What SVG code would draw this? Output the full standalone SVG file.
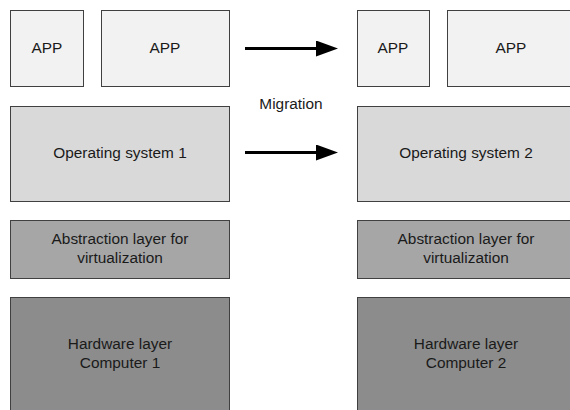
<svg xmlns="http://www.w3.org/2000/svg" width="570" height="410" viewBox="0 0 570 410">
  <style>
    .box { stroke: #404040; stroke-width: 1; }
    .app { fill: #f2f2f2; }
    .os { fill: #d9d9d9; }
    .abs { fill: #a6a6a6; }
    .hw { fill: #8c8c8c; }
    text { font-family: "Liberation Sans", Arial, sans-serif; font-size: 15.4px; fill: #1a1a1a; text-anchor: middle; }
    .conn { stroke: #000; stroke-width: 3; fill: none; }
  </style>
  <defs>
    <marker id="arrow" markerUnits="userSpaceOnUse" markerWidth="22" markerHeight="16" refX="0" refY="8" orient="auto">
      <path d="M0,0 L22,8 L0,16 Z" fill="#000"/>
    </marker>
  </defs>
  <rect width="570" height="410" fill="#fff"/>

  <!-- Computer 1 stack -->
  <g id="app1a"><rect class="box app" x="10.5" y="10.5" width="73" height="76"/><text x="47" y="53">APP</text></g>
  <g id="app1b"><rect class="box app" x="101.5" y="10.5" width="128" height="76"/><text x="165" y="53">APP</text></g>
  <g id="os1"><rect class="box os" x="10.5" y="106.5" width="219" height="95"/><text x="120" y="158">Operating system 1</text></g>
  <g id="abs1"><rect class="box abs" x="10.5" y="220.5" width="219" height="58"/><text x="120" y="244">Abstraction layer for</text><text x="120" y="263">virtualization</text></g>
  <g id="hw1"><rect class="box hw" x="10.5" y="297.5" width="219" height="120"/><text x="120" y="349">Hardware layer</text><text x="120" y="368">Computer 1</text></g>

  <!-- Computer 2 stack -->
  <g id="app2a"><rect class="box app" x="357.5" y="10.5" width="72" height="76"/><text x="393" y="53">APP</text></g>
  <g id="app2b"><rect class="box app" x="447.5" y="10.5" width="128" height="76"/><text x="511" y="53">APP</text></g>
  <g id="os2"><rect class="box os" x="357.5" y="106.5" width="219" height="95"/><text x="466" y="158">Operating system 2</text></g>
  <g id="abs2"><rect class="box abs" x="357.5" y="220.5" width="219" height="58"/><text x="466" y="244">Abstraction layer for</text><text x="466" y="263">virtualization</text></g>
  <g id="hw2"><rect class="box hw" x="357.5" y="297.5" width="219" height="120"/><text x="466" y="349">Hardware layer</text><text x="466" y="368">Computer 2</text></g>

  <!-- Migration arrows -->
  <g id="connectors">
    <line class="conn" x1="245" y1="48.5" x2="316" y2="48.5" marker-end="url(#arrow)"/>
    <line class="conn" x1="245" y1="152.5" x2="316" y2="152.5" marker-end="url(#arrow)"/>
    <text x="291" y="109">Migration</text>
  </g>
</svg>
